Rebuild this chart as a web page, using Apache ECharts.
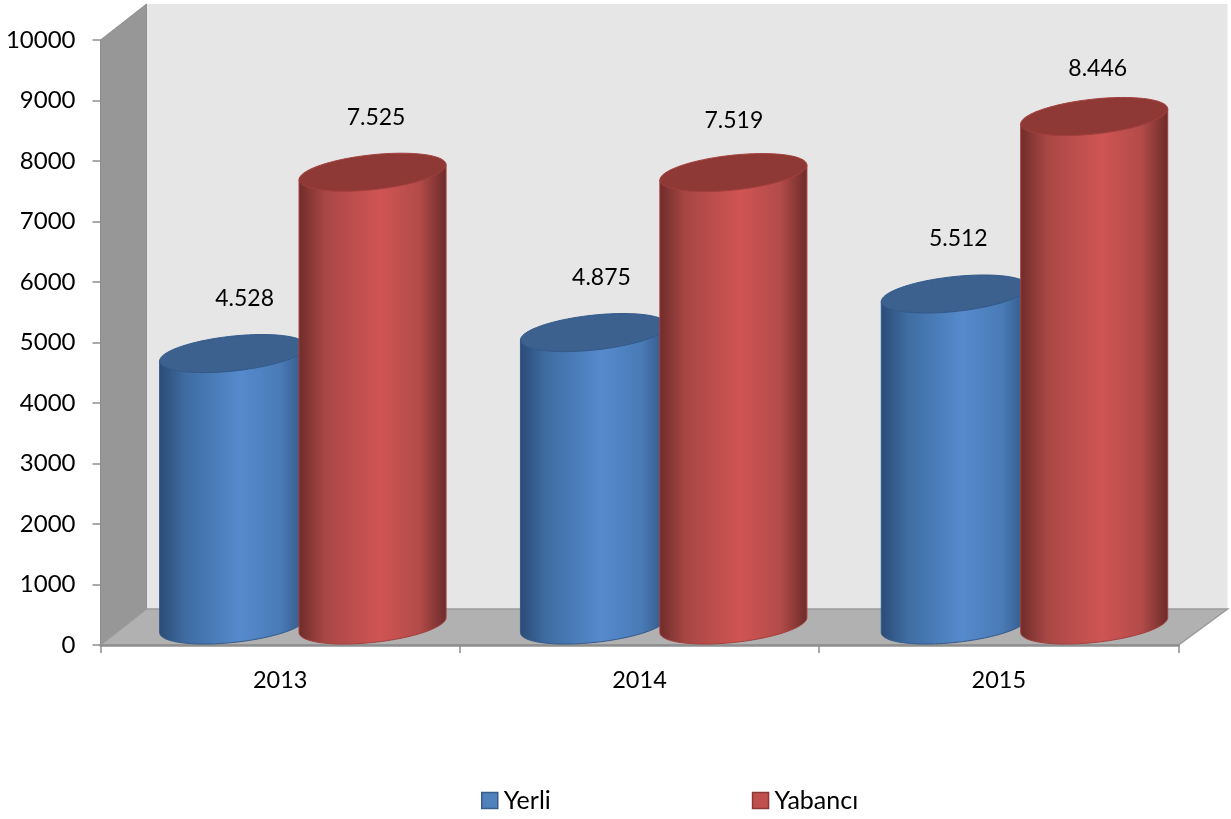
<!DOCTYPE html>
<html>
<head>
<meta charset="utf-8">
<style>html,body{margin:0;padding:0;background:#fff}#c{width:1231px;height:819px}</style>
<script src="https://cdn.jsdelivr.net/npm/echarts@6/dist/echarts.min.js"></script>
</head>
<body>
<div id="c"></div>
<script>
const categories = ['2013', '2014', '2015'];
const yerli = [4528, 4875, 5512];
const yabanci = [7525, 7519, 8446];
const seriesNames = ['Yerli', 'Yabancı'];

// drawing parameters (not data)
const DEPTH_X = 46, DEPTH_Y = 36;
const FONT = 'Lato';
const labelNudge = {
  Yerli:   [[11.5, -72.5], [7.5, -72.5], [3.5, -72.5]],
  'Yabancı': [[3.5, -72.5], [0.5, -70], [3.5, -65.5]]
};
const look = {
  Yerli: {
    stops: ['#2b4b76', '#3f6da2', '#558acd', '#4a7bb6', '#2f5482'],
    top: '#3c618f', rim: '#34598a', center: -0.1295
  },
  'Yabancı': {
    stops: ['#6f2c2a', '#a84745', '#cf5553', '#b24b49', '#6b2b29'],
    top: '#8f3937', rim: '#a33f3d', center: 0.2585
  }
};

function gradient(stops) {
  const pos = [0, 0.18, 0.55, 0.82, 1];
  return new echarts.graphic.LinearGradient(0, 0, 1, 0,
    stops.map((c, i) => ({ offset: pos[i], color: c })));
}

function cylinderRenderer(name) {
  const st = look[name];
  return function (params, api) {
    const i = api.value(0), v = api.value(1);
    const band = api.size([1, 0])[0];
    const a = band * 0.2046, ry = 17.5, shear = 7.5;
    const base = api.coord([i, 0]);
    const head = api.coord([i, v]);
    const cx = base[0] + band * st.center + 1.5 * i - 0.5;
    const rimAt = (cy, t) => [cx + a * Math.cos(t), cy - shear * Math.cos(t) + ry * Math.sin(t)];
    const yBottom = base[1] - 20, yTop = head[1] - 17.5;
    const body = [];
    body.push(rimAt(yTop, Math.PI));
    for (let k = 0; k <= 60; k++) body.push(rimAt(yBottom, Math.PI - Math.PI * k / 60));
    body.push(rimAt(yTop, 0));
    const top = [];
    for (let k = 0; k < 120; k++) top.push(rimAt(yTop, 2 * Math.PI * k / 120));
    const nudge = labelNudge[name][i];
    return {
      type: 'group',
      children: [
        { type: 'polygon', shape: { points: body },
          style: { fill: gradient(st.stops), stroke: st.rim, lineWidth: 1 } },
        { type: 'polygon', shape: { points: top },
          style: { fill: st.top, stroke: st.rim, lineWidth: 1 } },
        { type: 'text', z2: 50,
          style: {
            text: String(v).replace(/(\d)(\d{3})$/, '$1.$2'),
            x: cx + nudge[0], y: head[1] + nudge[1],
            align: 'center', verticalAlign: 'middle',
            font: '23px ' + FONT, fill: '#000'
          } }
      ]
    };
  };
}

function renderWalls(params, api) {
  const c = params.coordSys;
  const l = c.x, t = c.y, r = c.x + c.width, b = c.y + c.height;
  return {
    type: 'group',
    children: [
      { type: 'polygon', shape: { points: [[l + DEPTH_X, t - DEPTH_Y], [r + DEPTH_X + 3, t - DEPTH_Y], [r + DEPTH_X + 3, b - DEPTH_Y], [l + DEPTH_X, b - DEPTH_Y]] },
        style: { fill: '#e6e6e6' } },
      { type: 'polygon', shape: { points: [[l, t], [l + DEPTH_X, t - DEPTH_Y], [l + DEPTH_X, b - DEPTH_Y], [l, b]] },
        style: { fill: '#979797', stroke: '#8f8f8f', lineWidth: 1 } },
      { type: 'polygon', shape: { points: [[l, b], [l + DEPTH_X, b - DEPTH_Y], [r + DEPTH_X + 3, b - DEPTH_Y], [r, b]] },
        style: { fill: '#b1b1b1', stroke: '#9a9a9a', lineWidth: 1.5 } }
    ]
  };
}

const chart = echarts.init(document.getElementById('c'), null, { renderer: 'canvas' });
chart.setOption({
  animation: false,
  backgroundColor: '#fff',
  grid: { left: 100.5, right: 52.5, top: 40, bottom: 174, containLabel: false },
  xAxis: {
    type: 'category', data: categories, z: 1,
    axisLine: { lineStyle: { color: '#8e8e8e', width: 2.5 } },
    axisTick: { show: true, length: 8, lineStyle: { color: '#8e8e8e', width: 1.5 } },
    axisLabel: { fontFamily: FONT, fontSize: 23.5, color: '#000', margin: 23 }
  },
  yAxis: {
    type: 'value', min: 0, max: 10000, interval: 1000,
    splitLine: { show: false },
    axisLine: { show: true, lineStyle: { color: '#8e8e8e', width: 1 } },
    axisTick: { show: true, length: 8, lineStyle: { color: '#8e8e8e', width: 1.5 } },
    axisLabel: { fontFamily: FONT, fontSize: 24, color: '#000', margin: 25, padding: [4, 0, 0, 0],
      formatter: (v) => String(v) }
  },
  legend: {
    left: 481, top: 788, padding: 0, itemWidth: 16, itemHeight: 16, itemGap: 201,
    selectedMode: false,
    textStyle: { fontFamily: FONT, fontSize: 25, color: '#000', padding: [1, 0, 0, 1] },
    data: [
      { name: seriesNames[0], icon: 'rect', itemStyle: { color: '#4f81bd', borderColor: '#385d8a', borderWidth: 1.5 } },
      { name: seriesNames[1], icon: 'rect', itemStyle: { color: '#c0504d', borderColor: '#8c3836', borderWidth: 1.5 } }
    ]
  },
  series: [
    { type: 'custom', name: 'walls', silent: true, z: 0, renderItem: renderWalls, data: [[0, 0]],
      encode: { x: 0, y: 1 }, clip: false },
    { type: 'custom', name: seriesNames[0], z: 3, renderItem: cylinderRenderer(seriesNames[0]),
      itemStyle: { color: '#4f81bd' }, encode: { x: 0, y: 1 },
      data: yerli.map((v, i) => [i, v]), clip: false },
    { type: 'custom', name: seriesNames[1], z: 4, renderItem: cylinderRenderer(seriesNames[1]),
      itemStyle: { color: '#c0504d' }, encode: { x: 0, y: 1 },
      data: yabanci.map((v, i) => [i, v]), clip: false }
  ]
});
</script>
</body>
</html>
